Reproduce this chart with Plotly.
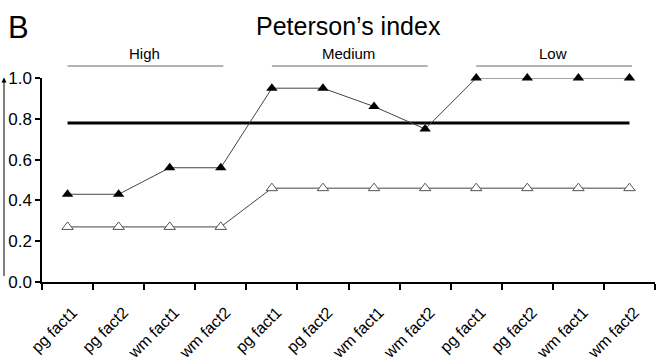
import plotly.graph_objects as go

categories = ["pg fact1", "pg fact2", "wm fact1", "wm fact2"] * 3
filled_values = [0.43, 0.43, 0.56, 0.56, 0.95, 0.95, 0.86, 0.75, 1.0, 1.0, 1.0, 1.0]
open_values = [0.27, 0.27, 0.27, 0.27, 0.46, 0.46, 0.46, 0.46, 0.46, 0.46, 0.46, 0.46]
threshold = 0.78
groups = ["High", "Medium", "Low"]
y_ticks = [0.0, 0.2, 0.4, 0.6, 0.8, 1.0]

xs = list(range(len(categories)))
FONT = "Liberation Sans, Arial, sans-serif"

fig = go.Figure()
fig.add_trace(go.Scatter(x=xs, y=[threshold] * len(xs), mode="lines",
                         line=dict(color="black", width=3), hoverinfo="skip"))
fig.add_trace(go.Scatter(x=xs, y=open_values, mode="lines+markers",
                         line=dict(color="#444", width=1),
                         marker=dict(symbol="triangle-up", size=10, color="white",
                                     line=dict(color="#555", width=1)),
                         cliponaxis=False))
fig.add_trace(go.Scatter(x=xs, y=filled_values, mode="lines+markers",
                         line=dict(color="#444", width=1),
                         marker=dict(symbol="triangle-up", size=10, color="black",
                                     line=dict(color="black", width=0)),
                         cliponaxis=False))

shapes = []
annotations = []
for gi, g in enumerate(groups):
    x0 = gi * 4
    x1 = gi * 4 + 3
    shapes.append(dict(type="line", xref="x", yref="paper", x0=x0, x1=x1 + 0.05,
                       y0=1.059, y1=1.059, line=dict(color="#999", width=1.5)))
    annotations.append(dict(text=g, xref="x", yref="paper", x=(x0 + x1) / 2, y=1.12,
                            showarrow=False, font=dict(size=15, color="black", family=FONT),
                            xanchor="center", yanchor="middle"))

annotations.append(dict(text="B", xref="paper", yref="paper", x=-0.058, y=1.15,
                        xanchor="left", yanchor="bottom", showarrow=False,
                        font=dict(size=31, color="black", family=FONT)))
annotations.append(dict(text="Peterson\u2019s index", xref="paper", yref="paper", x=0.5, y=1.255,
                        xanchor="center", yanchor="middle", showarrow=False,
                        font=dict(size=25, color="black", family=FONT)))
# arrow beside y axis
annotations.append(dict(text="", xref="paper", yref="paper", x=-0.062, y=1.002,
                        ax=0, ay=200, axref="pixel", ayref="pixel", showarrow=True,
                        arrowhead=2, arrowsize=1, arrowwidth=1, arrowcolor="black"))

fig.update_layout(
    width=656, height=361,
    margin=dict(l=42, r=1, t=78, b=79),
    paper_bgcolor="white", plot_bgcolor="white",
    showlegend=False,
    font=dict(family=FONT, color="black", size=14),
    shapes=shapes, annotations=annotations,
    xaxis=dict(range=[-0.5, 11.5], tickvals=xs, ticktext=categories, ticks="",
               tickangle=-45, showgrid=False, zeroline=False, showline=True,
               linecolor="black", linewidth=1.5, tickfont=dict(size=16),
               ticklabelstandoff=13, ticklabelshift=5, automargin=False,
               minor=dict(tickvals=[i - 0.5 for i in range(13)], ticks="outside",
                          ticklen=6, tickwidth=1.5, tickcolor="black", showgrid=False)),
    yaxis=dict(range=[0, 1.0], tickvals=y_ticks, ticktext=[f"{v:.1f}" for v in y_ticks],
               ticks="outside", ticklen=5, tickwidth=1.5, tickcolor="black",
               showgrid=False, zeroline=False, showline=True, linecolor="black",
               linewidth=1.5, tickfont=dict(size=17), automargin=False),
)

fig.write_html("out.html", config={"displayModeBar": False},
               post_script="document.body.style.margin='0';")
